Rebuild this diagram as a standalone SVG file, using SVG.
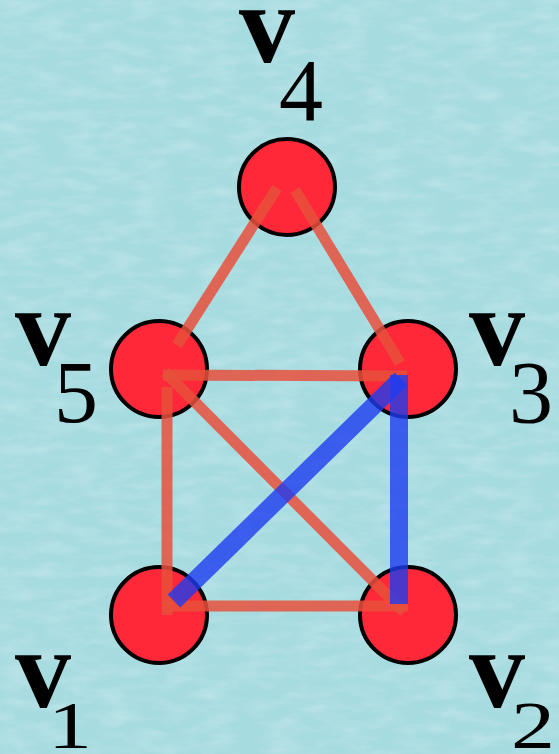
<svg xmlns="http://www.w3.org/2000/svg" width="559" height="754" viewBox="0 0 559 754">
<defs>
<filter id="tex" x="0" y="0" width="100%" height="100%">
<feTurbulence type="fractalNoise" baseFrequency="0.03 0.09" numOctaves="3" seed="4" result="n"/>
<feColorMatrix in="n" type="matrix" values="0 0 0 0 1  0 0 0 0 1  0 0 0 0 1  0 0 0 -1.2 0.75" result="w"/>
<feComposite in="w" in2="SourceGraphic" operator="in"/>
</filter>
<style>
.node{fill:#fe2838;stroke:#000;stroke-width:4}
.lv{font-family:"Liberation Serif",serif;font-weight:bold;font-size:112px;fill:#000;text-anchor:middle}
.ld{font-family:"Liberation Serif",serif;font-size:88px;fill:#000;text-anchor:middle}
.e{stroke:#e8503c;stroke-opacity:0.85;stroke-width:11;fill:none}
.b{stroke:#1e3cf0;stroke-opacity:0.8;stroke-width:18;fill:none}
</style>
</defs>
<rect width="559" height="754" fill="#a6dbe0"/>
<rect width="559" height="754" fill="#a6dbe0" filter="url(#tex)" opacity="0.35"/>
<g id="v4"><circle class="node" cx="287" cy="187" r="48"/><text class="lv" x="267" y="62">v</text><text class="ld" x="301" y="120">4</text></g>
<g id="v5"><circle class="node" cx="159" cy="369" r="48"/><text class="lv" x="43" y="365">v</text><text class="ld" x="76" y="422">5</text></g>
<g id="v3"><circle class="node" cx="408" cy="369" r="48"/><text class="lv" x="497" y="365">v</text><text class="ld" x="531" y="422">3</text></g>
<g id="v1"><circle class="node" cx="159" cy="615" r="48"/><text class="lv" x="43" y="707">v</text><text class="ld" transform="translate(70,748) scale(1,0.77)">1</text></g>
<g id="v2"><circle class="node" cx="408" cy="615" r="48"/><text class="lv" x="497" y="707">v</text><text class="ld" transform="translate(533,748) scale(1,0.77)">2</text></g>
<g id="edges">
<line class="e" x1="277" y1="188" x2="177" y2="345"/>
<line class="e" x1="295" y1="190" x2="400" y2="363"/>
<line class="e" x1="163" y1="375" x2="407" y2="376"/>
<line class="e" x1="165" y1="372" x2="404" y2="612"/>
<line class="e" x1="167" y1="387" x2="167" y2="615"/>
<line class="e" x1="163" y1="606" x2="408" y2="606"/>
<line class="b" x1="174" y1="601" x2="401" y2="379"/>
<line class="b" x1="399" y1="375" x2="399" y2="604"/>
</g>
</svg>
